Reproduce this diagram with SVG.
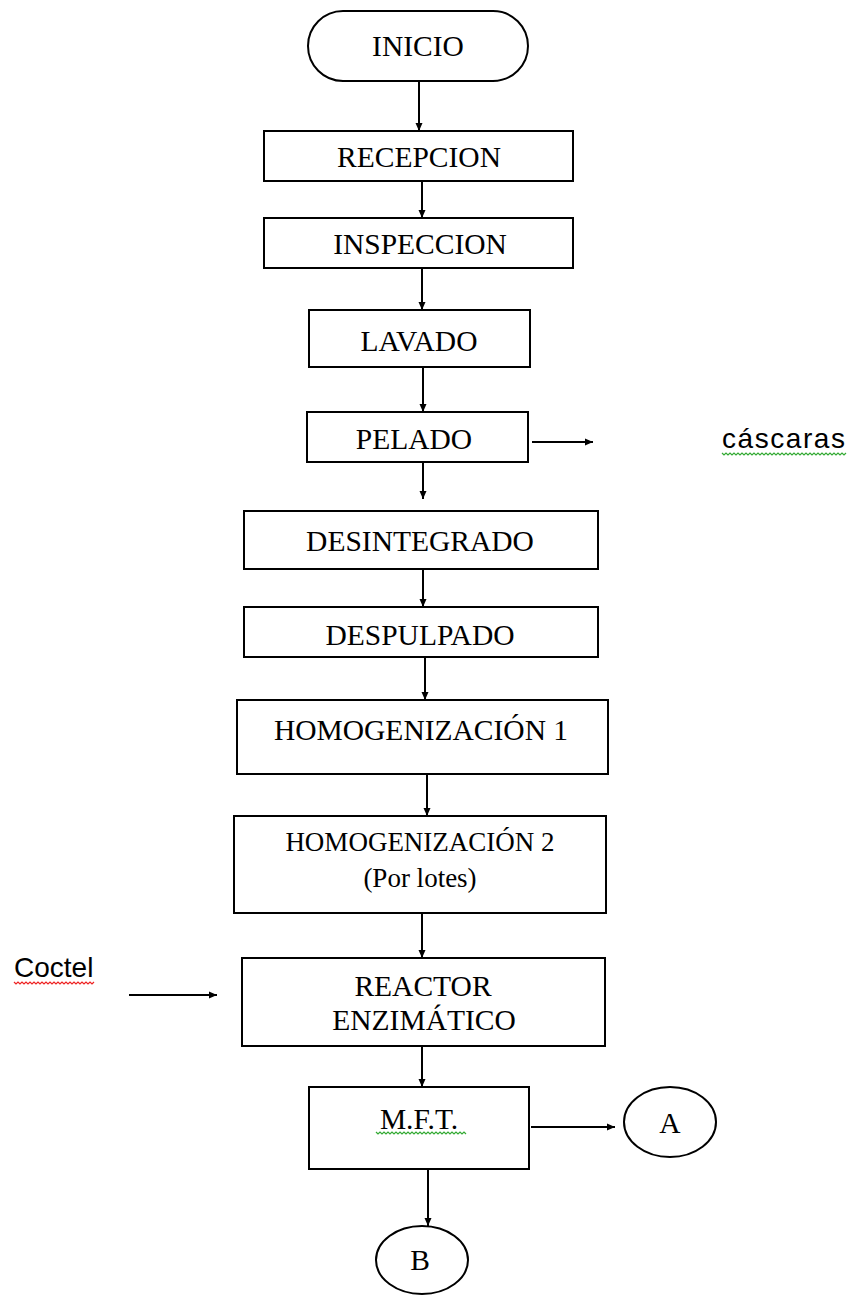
<svg xmlns="http://www.w3.org/2000/svg" width="850" height="1296" viewBox="0 0 850 1296">
<style>
.box{fill:#fff;stroke:#000;stroke-width:2}
.t{font-family:"Liberation Serif","Times New Roman",serif;font-size:29.5px;fill:#000;text-anchor:middle}
.t2{font-family:"Liberation Serif","Times New Roman",serif;font-size:27px;fill:#000;text-anchor:middle}
.s{font-family:"Liberation Sans",Arial,sans-serif;font-size:28px;fill:#000}
.c{stroke:#000;stroke-width:2;fill:none}
.sq{fill:none;stroke-width:1.2}
</style>
<defs>
<marker id="ah" markerUnits="userSpaceOnUse" markerWidth="9" markerHeight="8" refX="8" refY="4" orient="auto">
<path d="M0,0.5 L8,4 L0,7.5 Z" fill="#000"/>
</marker>
</defs>
<rect width="850" height="1296" fill="#fff"/>
<g id="connectors">
<line class="c" x1="419" y1="81" x2="419" y2="131" marker-end="url(#ah)"/>
<line class="c" x1="422" y1="181" x2="422" y2="218" marker-end="url(#ah)"/>
<line class="c" x1="422" y1="268" x2="422" y2="310" marker-end="url(#ah)"/>
<line class="c" x1="423" y1="367" x2="423" y2="412" marker-end="url(#ah)"/>
<line class="c" x1="423" y1="462" x2="423" y2="499" marker-end="url(#ah)"/>
<line class="c" x1="423" y1="569" x2="423" y2="607" marker-end="url(#ah)"/>
<line class="c" x1="425" y1="657" x2="425" y2="700" marker-end="url(#ah)"/>
<line class="c" x1="427" y1="774" x2="427" y2="816" marker-end="url(#ah)"/>
<line class="c" x1="422" y1="913" x2="422" y2="958" marker-end="url(#ah)"/>
<line class="c" x1="422" y1="1046" x2="422" y2="1087" marker-end="url(#ah)"/>
<line class="c" x1="428" y1="1169" x2="428" y2="1226" marker-end="url(#ah)"/>
<line class="c" x1="532" y1="442" x2="593" y2="442" marker-end="url(#ah)"/>
<line class="c" x1="129" y1="995" x2="217" y2="995" marker-end="url(#ah)"/>
<line class="c" x1="531" y1="1127" x2="615" y2="1127" marker-end="url(#ah)"/>
</g>
<g id="inicio"><rect class="box" x="308" y="11" width="220" height="70" rx="35"/><text class="t" x="418" y="56">INICIO</text></g>
<g id="recepcion"><rect class="box" x="264" y="131" width="309" height="50"/><text class="t" x="419" y="167">RECEPCION</text></g>
<g id="inspeccion"><rect class="box" x="264" y="218" width="309" height="50"/><text class="t" x="420" y="254">INSPECCION</text></g>
<g id="lavado"><rect class="box" x="309" y="310" width="221" height="57"/><text class="t" x="419" y="351">LAVADO</text></g>
<g id="pelado"><rect class="box" x="307" y="412" width="221" height="50"/><text class="t" x="414" y="449">PELADO</text></g>
<g id="cascaras"><text class="s" x="722" y="448" textLength="123" lengthAdjust="spacing">cáscaras</text><path class="sq" stroke="#3a3" d="M722,453 l2,2 l2,-2 l2,2 l2,-2 l2,2 l2,-2 l2,2 l2,-2 l2,2 l2,-2 l2,2 l2,-2 l2,2 l2,-2 l2,2 l2,-2 l2,2 l2,-2 l2,2 l2,-2 l2,2 l2,-2 l2,2 l2,-2 l2,2 l2,-2 l2,2 l2,-2 l2,2 l2,-2 l2,2 l2,-2 l2,2 l2,-2 l2,2 l2,-2 l2,2 l2,-2 l2,2 l2,-2 l2,2 l2,-2 l2,2 l2,-2 l2,2 l2,-2 l2,2 l2,-2 l2,2 l2,-2 l2,2 l2,-2 l2,2 l2,-2 l2,2 l2,-2 l2,2 l2,-2 l2,2 l2,-2 l2,2 l2,-2"/></g>
<g id="desintegrado"><rect class="box" x="244" y="511" width="354" height="58"/><text class="t" x="420" y="551">DESINTEGRADO</text></g>
<g id="despulpado"><rect class="box" x="244" y="607" width="354" height="50"/><text class="t" x="420" y="645">DESPULPADO</text></g>
<g id="homog1"><rect class="box" x="237" y="700" width="371" height="74"/><text class="t" x="421" y="740">HOMOGENIZACIÓN 1</text></g>
<g id="homog2"><rect class="box" x="234" y="816" width="372" height="97"/><text class="t2" x="420" y="851">HOMOGENIZACIÓN 2</text><text class="t2" x="420" y="887">(Por lotes)</text></g>
<g id="coctel"><text class="s" x="14" y="977">Coctel</text><path class="sq" stroke="#e22" d="M14,982 l2,2 l2,-2 l2,2 l2,-2 l2,2 l2,-2 l2,2 l2,-2 l2,2 l2,-2 l2,2 l2,-2 l2,2 l2,-2 l2,2 l2,-2 l2,2 l2,-2 l2,2 l2,-2 l2,2 l2,-2 l2,2 l2,-2 l2,2 l2,-2 l2,2 l2,-2 l2,2 l2,-2 l2,2 l2,-2 l2,2 l2,-2 l2,2 l2,-2 l2,2 l2,-2 l2,2 l2,-2"/></g>
<g id="reactor"><rect class="box" x="242" y="958" width="363" height="88"/><text class="t" x="423" y="996">REACTOR</text><text class="t" x="424" y="1030">ENZIMÁTICO</text></g>
<g id="mft"><rect class="box" x="309" y="1087" width="220" height="82"/><text class="t" x="419" y="1129">M.F.T.</text><path class="sq" stroke="#3a3" d="M376,1132 l2,2 l2,-2 l2,2 l2,-2 l2,2 l2,-2 l2,2 l2,-2 l2,2 l2,-2 l2,2 l2,-2 l2,2 l2,-2 l2,2 l2,-2 l2,2 l2,-2 l2,2 l2,-2 l2,2 l2,-2 l2,2 l2,-2 l2,2 l2,-2 l2,2 l2,-2 l2,2 l2,-2 l2,2 l2,-2 l2,2 l2,-2 l2,2 l2,-2 l2,2 l2,-2 l2,2 l2,-2 l2,2 l2,-2 l2,2 l2,-2 l2,2"/></g>
<g id="a"><ellipse class="box" cx="670" cy="1122" rx="46" ry="35"/><text class="t" x="670" y="1133">A</text></g>
<g id="b"><ellipse class="box" cx="422" cy="1260" rx="46" ry="34"/><text class="t" x="420" y="1270">B</text></g>
</svg>
